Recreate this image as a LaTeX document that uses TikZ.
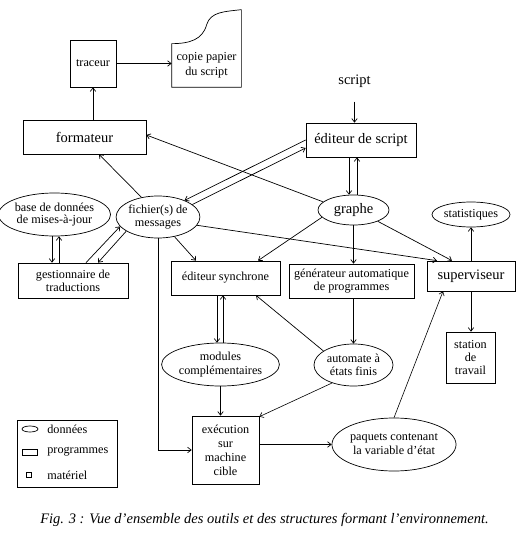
\documentclass[tikz,border=0pt]{standalone}
\usepackage{fontspec}
\setmainfont{Liberation Serif}
\usetikzlibrary{shapes.geometric,arrows.meta,calc}
\begin{document}
\begin{tikzpicture}[x=1pt,y=-1pt,
  line width=0.7pt,
  big/.style={font=\fontsize{14.5}{15}\selectfont},
  small/.style={font=\fontsize{12.2}{13}\selectfont},
  prog/.style={draw, rectangle, inner sep=0pt, align=center},
  data/.style={draw, ellipse, inner sep=0pt, align=center},
  arr/.style={-{Straight Barb[length=3.5pt,width=5.5pt]}},
  thinl/.style={line width=0.6pt}]
\useasboundingbox (0,0) rectangle (521,537);
% nodes
\node[prog, small, minimum width=46pt, minimum height=47pt] (trac) at (93,63.5) {traceur};
\node[small, inner sep=0pt, align=center, minimum width=69pt, minimum height=43pt, font=\fontsize{12.2}{15}\selectfont] (copie) at (206.5,65.5) {copie papier\\du script};
\node[prog, big, minimum width=123pt, minimum height=34pt] (form) at (84.5,137) {formateur};
\node[big, inner sep=0pt] (script) at (354.5,81) {script};
\node[prog, big, minimum width=110pt, minimum height=34pt] (edscr) at (361,140) {éditeur de script};
\node[data, big, minimum width=71pt, minimum height=30pt] (graphe) at (353.5,210) {graphe};
\node[data, small, minimum width=78pt, minimum height=25pt] (stat) at (471,214.5) {statistiques};
\node[prog, big, minimum width=88pt, minimum height=30pt] (sup) at (471,276) {superviseur};
\node[prog, small, minimum width=49pt, minimum height=51pt, font=\fontsize{12.2}{13}\selectfont] (station) at (470.5,357.5) {station\\de\\travail};
\node[prog, small, minimum width=125pt, minimum height=34pt, font=\fontsize{12.2}{13.5}\selectfont] (gen) at (351.5,281) {générateur automatique\\de programmes};
\node[prog, small, minimum width=109pt, minimum height=34pt] (edsync) at (225.5,278) {éditeur synchrone};
\node[data, small, minimum width=78pt, minimum height=42pt, font=\fontsize{12.2}{12.8}\selectfont] (fich) at (158,217) {fichier(s) de\\messages};
\node[data, small, minimum width=95pt, minimum height=43pt, font=\fontsize{12.2}{12.8}\selectfont] (bdd) at (54.5,214.5) {base de données\\de mises-à-jour};
\node[prog, small, minimum width=110pt, minimum height=35pt, font=\fontsize{12.2}{12.8}\selectfont] (gest) at (73,280.5) {gestionnaire de\\traductions};
\node[data, small, minimum width=91pt, minimum height=43pt, font=\fontsize{12.2}{14}\selectfont] (mod) at (220.5,364.5) {modules\\complémentaires};
\node[data, small, minimum width=79pt, minimum height=42pt, font=\fontsize{12.2}{12.8}\selectfont] (auto) at (353.5,365) {automate à\\états finis};
\node[prog, small, minimum width=67pt, minimum height=68pt, font=\fontsize{12.2}{14}\selectfont] (exec) at (225.5,450) {exécution\\sur\\machine\\cible};
\node[data, small, minimum width=106pt, minimum height=53pt, font=\fontsize{12.2}{14}\selectfont] (paq) at (394,444.5) {paquets contenant\\la variable d’état};
% copie papier outline
\draw (copie.north west) .. controls ($(copie.north west)+(18,0)$) and ($(copie.north west)+(31,-4)$) .. ($(copie.north west)+(35,-19)$)
  .. controls ($(copie.north west)+(39,-32)$) and ($(copie.north west)+(53,-32)$) .. ($(copie.north east)+(0,-34)$)
  -- (copie.south east) -- (copie.south west) -- cycle;
% connectors
\draw[arr] (trac.east) -- (trac.east -| copie.west);
\draw[arr] (trac.south |- form.north) -- (trac.south);
\draw[arr] ([yshift=-14pt]script.south) -- (script.south |- edscr.north);
\draw[arr] ([xshift=-4.5pt]graphe.north |- edscr.south) -- ([xshift=-4.5pt]graphe.north);
\draw[arr] ([xshift=3.5pt]graphe.north) -- ([xshift=3.5pt]graphe.north |- edscr.south);
\draw[arr] (edscr.west) -- (fich.32);
\draw[arr] (fich.20) -- ([yshift=-8pt]edscr.west);
\draw[arr] (graphe.165) -- ([yshift=2pt]form.east);
\draw[arr] (fich.130) -- ([xshift=14.5pt]form.south);
\draw[arr] (fich.-50) -- ([xshift=-29.5pt]edsync.north);
\draw[arr] (fich.-12) -- ([xshift=-34pt]sup.north);
\draw[arr] ([xshift=13pt]gest.north) -- (fich.194);
\draw[arr] (fich.204) -- ([xshift=25pt]gest.north);
\draw[arr] ([xshift=-2.5pt]bdd.south) -- ([xshift=-2.5pt]bdd.south |- gest.north);
\draw[arr] ([xshift=4.5pt]bdd.south |- gest.north) -- ([xshift=4.5pt]bdd.south);
\draw[arr] (graphe.193) -- ([xshift=32.5pt]edsync.north);
\draw[arr] (graphe.south) -- (graphe.south |- gen.north);
\draw[arr] (graphe.-25) -- ([xshift=-19pt]sup.north);
\draw[arr] (sup.north) -- (stat.south);
\draw[arr] (sup.south) -- (sup.south |- station.north);
\draw[arr] ([xshift=-3.5pt]mod.north |- edsync.south) -- ([xshift=-3.5pt]mod.north);
\draw[arr] ([xshift=2.5pt]mod.north) -- ([xshift=2.5pt]mod.north |- edsync.south);
\draw[arr] (auto.north |- gen.south) -- (auto.north);
\draw[arr] (auto.155) -- ([xshift=30.5pt]edsync.south);
\draw[arr, thinl] (auto.-140) -- ([yshift=-1pt]exec.north east);
\draw[arr] (mod.south) -- (mod.south |- exec.north);
\draw[arr] (fich.south) |- (exec.west);
\draw[arr] (paq.west -| exec.east) -- (paq.west);
\draw[arr, thinl] (paq.north) -- ([xshift=-28pt]sup.south);
% legend
\node[draw, minimum width=100pt, minimum height=67pt, inner sep=0pt] (leg) at (67,453.5) {};
\node[draw, ellipse, minimum width=16pt, minimum height=6pt, inner sep=0pt] (lege) at (30,429) {};
\node[draw, rectangle, minimum width=15pt, minimum height=6pt, inner sep=0pt] (legr) at (29.5,452.5) {};
\node[draw, rectangle, minimum width=5pt, minimum height=5pt, inner sep=0pt] (legs) at (28.5,475) {};
\node[small, anchor=west, inner sep=0pt] (legte) at (47,429) {données};
\node[small, anchor=west, inner sep=0pt] (legtr) at (47,452) {programmes};
\node[small, anchor=west, inner sep=0pt] (legts) at (47,475) {matériel};
% caption
\node[font=\fontsize{14.5}{15}\selectfont\itshape, inner sep=0pt] (cap) at (264.5,520) {Fig. 3 : Vue d’ensemble des outils et des structures formant l’environnement.};
\end{tikzpicture}
\end{document}
